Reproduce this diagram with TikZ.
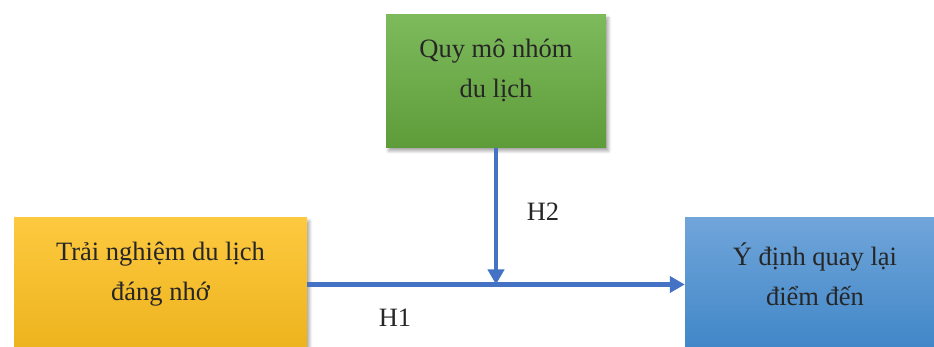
\documentclass[tikz,border=0pt]{standalone}
\usepackage{fontspec}
\setmainfont{Liberation Serif}
\usetikzlibrary{arrows.meta,shadows.blur}
\definecolor{arrowblue}{HTML}{4472C4}
\definecolor{txtgray}{HTML}{262626}
\definecolor{gtop}{HTML}{7DBA5C}
\definecolor{gmid}{HTML}{6AAE45}
\definecolor{gbot}{HTML}{5E9C3A}
\definecolor{otop}{HTML}{FDC93F}
\definecolor{omid}{HTML}{FFC000}
\definecolor{obot}{HTML}{EDB31E}
\definecolor{btop}{HTML}{70A5DA}
\definecolor{bmid}{HTML}{5A95D1}
\definecolor{bbot}{HTML}{4086C7}
\tikzset{
  boxbase/.style={rectangle, inner sep=0pt, minimum height=133pt,
    blur shadow={shadow xshift=2.5pt, shadow yshift=-3pt, shadow blur steps=6,
      shadow blur radius=3pt, shadow opacity=35}},
  boxtext/.style={align=center, text=txtgray, font=\fontsize{26.5}{40}\selectfont},
  hlabel/.style={text=txtgray, font=\fontsize{26.5}{30}\selectfont},
  link/.style={draw=arrowblue, line width=4.5pt,
    -{Triangle[width=16pt,length=15pt]}},
}
\begin{document}
\begin{tikzpicture}[x=1pt,y=-1pt]
  \useasboundingbox (0,0) rectangle (934,347);
  % factor boxes
  \node[boxbase, minimum width=220pt, top color=gtop, middle color=gmid, bottom color=gbot,
        label={[boxtext, yshift=11pt]center:{Quy mô nhóm\\du lịch}}]
    (group) at (496,81.5) {};
  \node[boxbase, minimum width=293pt, top color=otop, middle color=omid, bottom color=obot,
        label={[boxtext, yshift=10pt]center:{Trải nghiệm du lịch\\đáng nhớ}}]
    (exp) at (160.5,284.5) {};
  \node[boxbase, minimum width=260pt, top color=btop, middle color=bmid, bottom color=bbot,
        label={[boxtext, yshift=10pt]center:{Ý định quay lại\\điểm đến}}]
    (intent) at (815,284.5) {};
  % junction of the moderating path on the main path
  \coordinate (join) at (group.south |- exp.east);
  % hypothesis paths
  \draw[link] (exp.east) -- (intent.west);
  \draw[link] (group.south) -- (join);
  \node[hlabel] (h2) at (543,212) {H2};
  \node[hlabel] (h1) at (395,318) {H1};
\end{tikzpicture}
\end{document}
